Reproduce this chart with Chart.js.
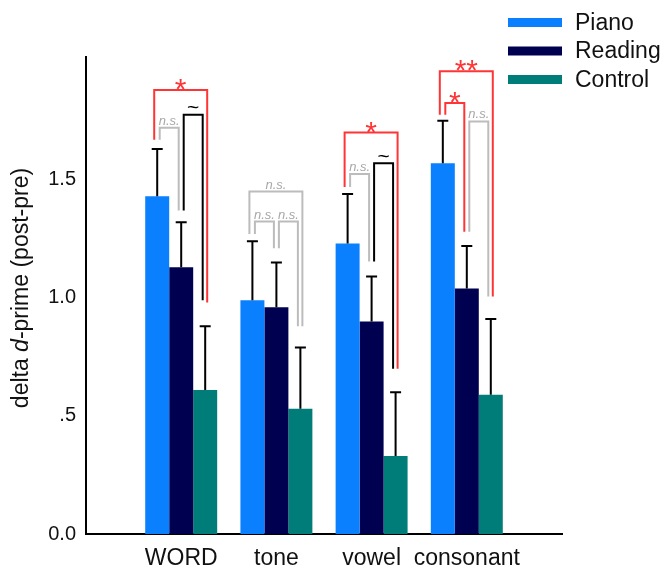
<!DOCTYPE html>
<html>
<head>
<meta charset="utf-8">
<script src="https://cdn.jsdelivr.net/npm/chart.js@4.4.1/dist/chart.umd.min.js"></script>
<style>
  html, body { margin: 0; padding: 0; background: #fff; }
  #wrap { width: 665px; height: 569px; }
</style>
</head>
<body>
<div id="wrap"><canvas id="chart"></canvas></div>
<script>
const categories = ["WORD", "tone", "vowel", "consonant"];
const seriesNames = ["Piano", "Reading", "Control"];
const piano = [1.43, 0.99, 1.23, 1.57];
const reading = [1.13, 0.96, 0.90, 1.04];
const control = [0.61, 0.53, 0.33, 0.59];
const pianoErr = [0.20, 0.25, 0.21, 0.18];
const readingErr = [0.19, 0.19, 0.19, 0.18];
const controlErr = [0.27, 0.26, 0.27, 0.32];
const yTicks = [0, 0.5, 1.0, 1.5];
const yTickLabels = ["0.0", ".5", "1.0", "1.5"];

// significance brackets (group index, bar from/to, top level, foot levels, label)
const brackets = [
  { group: 0, from: 0, to: 2, top: 1.88, footL: 1.67, footR: 0.98, label: "*", kind: "sig", outer: true },
  { group: 0, from: 0, to: 1, top: 1.72, footL: 1.67, footR: 1.37, label: "n.s.", kind: "ns" },
  { group: 0, from: 1, to: 2, top: 1.775, footL: 1.37, footR: 0.99, label: "~", kind: "trend" },
  { group: 1, from: 0, to: 2, top: 1.45, footL: 1.27, footR: 0.88, label: "n.s.", kind: "ns", outer: true },
  { group: 1, from: 0, to: 1, top: 1.323, footL: 1.27, footR: 1.21, label: "n.s.", kind: "ns" },
  { group: 1, from: 1, to: 2, top: 1.323, footL: 1.21, footR: 0.88, label: "n.s.", kind: "ns" },
  { group: 2, from: 0, to: 2, top: 1.70, footL: 1.47, footR: 0.70, label: "*", kind: "sig", outer: true },
  { group: 2, from: 0, to: 1, top: 1.524, footL: 1.47, footR: 1.154, label: "n.s.", kind: "ns" },
  { group: 2, from: 1, to: 2, top: 1.57, footL: 1.154, footR: 0.70, label: "~", kind: "trend" },
  { group: 3, from: 0, to: 2, top: 1.96, footL: 1.775, footR: 1.006, label: "**", kind: "sig", outer: true },
  { group: 3, from: 0, to: 1, top: 1.825, footL: 1.775, footR: 1.28, label: "*", kind: "sig" },
  { group: 3, from: 1, to: 2, top: 1.747, footL: 1.28, footR: 1.006, label: "n.s.", kind: "ns" },
];

const colors = ["#0a80ff", "#000050", "#007d78"];
const kindColor = { sig: "#ff3535", ns: "#bcbcbc", trend: "#000000" };
const FONT = "'Liberation Sans', Arial, Helvetica, sans-serif";

const pad = (arr) => [null, ...arr, null];
const labels = ["", ...categories, ""];

const errorBars = {
  id: "errorBars",
  afterDatasetsDraw(chart) {
    const ctx = chart.ctx;
    const y = chart.scales.y;
    ctx.save();
    ctx.strokeStyle = "#000";
    ctx.lineWidth = 2;
    chart.data.datasets.forEach((ds, i) => {
      const meta = chart.getDatasetMeta(i);
      ds.data.forEach((v, j) => {
        if (v == null) return;
        const bar = meta.data[j];
        const top = y.getPixelForValue(v + ds.errors[j]);
        ctx.beginPath();
        ctx.moveTo(bar.x, bar.y);
        ctx.lineTo(bar.x, top);
        ctx.moveTo(bar.x - 5.5, top);
        ctx.lineTo(bar.x + 5.5, top);
        ctx.stroke();
      });
    });
    ctx.restore();
  },
};

const sigBrackets = {
  id: "sigBrackets",
  afterDatasetsDraw(chart) {
    const ctx = chart.ctx;
    const y = chart.scales.y;
    ctx.save();
    ctx.lineWidth = 2;
    ctx.textAlign = "center";
    brackets.forEach((b) => {
      const xa = chart.getDatasetMeta(b.from).data[b.group + 1].x;
      const xb = chart.getDatasetMeta(b.to).data[b.group + 1].x;
      const xl = xa + (b.outer ? -3 : 2.5);
      const xr = xb + (b.outer ? 2 : -2.5);
      const yt = y.getPixelForValue(b.top);
      const col = kindColor[b.kind];
      ctx.strokeStyle = col;
      ctx.beginPath();
      ctx.moveTo(xl, y.getPixelForValue(b.footL));
      ctx.lineTo(xl, yt);
      ctx.lineTo(xr, yt);
      ctx.lineTo(xr, y.getPixelForValue(b.footR));
      ctx.stroke();

      const cx = (xl + xr) / 2;
      ctx.fillStyle = col;
      ctx.textBaseline = "alphabetic";
      if (b.kind === "sig") {
        ctx.font = "30px " + FONT;
        ctx.fillText(b.label, cx, yt + 9);
      } else if (b.kind === "trend") {
        ctx.font = "21px " + FONT;
        ctx.fillText(b.label, cx, yt - 0.5);
      } else {
        ctx.fillStyle = "#a8a8a8";
        ctx.font = "italic 13px " + FONT;
        ctx.fillText(b.label, cx, yt - 3);
      }
    });
    ctx.restore();
  },
};

const sideLegend = {
  id: "sideLegend",
  afterDraw(chart) {
    const ctx = chart.ctx;
    ctx.save();
    ctx.font = "23px " + FONT;
    ctx.textBaseline = "middle";
    ctx.textAlign = "left";
    seriesNames.forEach((name, i) => {
      const cy = 22.5 + i * 28.5;
      ctx.fillStyle = colors[i];
      ctx.fillRect(508, cy - 4.5, 54, 9);
      ctx.fillStyle = "#111";
      ctx.fillText(name, 575, cy + 1);
    });
    ctx.restore();
  },
};

const yTitle = {
  id: "yTitle",
  afterDraw(chart) {
    const ctx = chart.ctx;
    const parts = [
      ["delta ", ""],
      ["d", "italic "],
      ["-prime (post-pre)", ""],
    ];
    ctx.save();
    ctx.translate(22, 288);
    ctx.rotate(-Math.PI / 2);
    ctx.fillStyle = "#111";
    ctx.textBaseline = "middle";
    ctx.textAlign = "left";
    let total = 0;
    parts.forEach(([t, s]) => {
      ctx.font = s + "23px " + FONT;
      total += ctx.measureText(t).width;
    });
    let x = -total / 2;
    parts.forEach(([t, s]) => {
      ctx.font = s + "23px " + FONT;
      ctx.fillText(t, x, 0);
      x += ctx.measureText(t).width;
    });
    ctx.restore();
  },
};

new Chart(document.getElementById("chart"), {
  type: "bar",
  data: {
    labels,
    datasets: [
      { label: seriesNames[0], data: pad(piano), errors: pad(pianoErr), backgroundColor: colors[0] },
      { label: seriesNames[1], data: pad(reading), errors: pad(readingErr), backgroundColor: colors[1] },
      { label: seriesNames[2], data: pad(control), errors: pad(controlErr), backgroundColor: colors[2] },
    ],
  },
  options: {
    responsive: true,
    maintainAspectRatio: false,
    animation: false,
    layout: { padding: { top: 57, right: 103, left: 0, bottom: 0 } },
    datasets: {
      bar: { categoryPercentage: 0.756, barPercentage: 1.0, borderWidth: 0 },
    },
    plugins: {
      legend: { display: false },
      tooltip: { enabled: false },
    },
    scales: {
      x: {
        type: "category",
        offset: false,
        grid: { display: false, drawTicks: false },
        border: { color: "#000", width: 2 },
        ticks: {
          color: "#111",
          font: { family: FONT, size: 23 },
          padding: 11,
          autoSkip: false,
          maxRotation: 0,
        },
        afterFit: (s) => { s.height = 35; },
      },
      y: {
        min: 0,
        max: 2.02,
        grid: { display: false, drawTicks: false },
        border: { color: "#000", width: 2 },
        afterBuildTicks: (s) => { s.ticks = yTicks.map((v) => ({ value: v })); },
        ticks: {
          color: "#111",
          font: { family: FONT, size: 20 },
          padding: 10,
          callback: (v) => yTickLabels[yTicks.indexOf(v)],
        },
        afterFit: (s) => { s.width = 86; },
      },
    },
  },
  plugins: [errorBars, sigBrackets, sideLegend, yTitle],
});
</script>
</body>
</html>
